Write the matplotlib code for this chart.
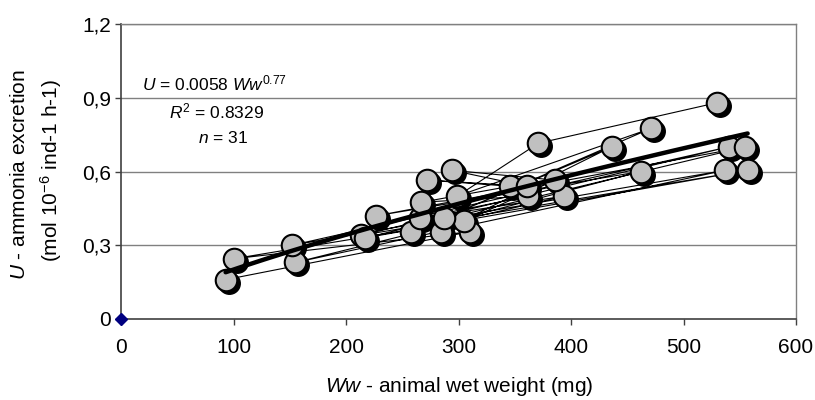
import matplotlib
matplotlib.use("Agg")
import matplotlib.pyplot as plt
import matplotlib.transforms as mtransforms
import numpy as np

plt.rcParams['font.family'] = ['Liberation Sans', 'DejaVu Sans']
plt.rcParams['mathtext.fontset'] = 'custom'
plt.rcParams['mathtext.rm'] = 'Liberation Sans'
plt.rcParams['mathtext.it'] = 'Liberation Sans:italic'

# Data (in series order; points are joined by thin lines in this order)
weight = [93, 310, 100, 305, 155, 537, 152, 540, 213, 557, 217, 555, 227, 462,
          258, 394, 266, 362, 267, 346, 272, 361, 294, 386, 284, 436, 287, 471,
          299, 371, 530]
excretion = [0.16, 0.355, 0.245, 0.40, 0.23, 0.605, 0.30, 0.70, 0.34, 0.605,
             0.33, 0.70, 0.42, 0.60, 0.355, 0.50, 0.41, 0.50, 0.475, 0.54,
             0.565, 0.54, 0.605, 0.565, 0.355, 0.70, 0.41, 0.775, 0.50, 0.715, 0.88]

fit_a = 0.0058
fit_b = 0.77
fit_range = [93, 557]
origin_point = [0, 0]

xticks = [0, 100, 200, 300, 400, 500, 600]
yticks = [0, 0.3, 0.6, 0.9, 1.2]
ytick_labels = ['0', '0,3', '0,6', '0,9', '1,2']

fig = plt.figure(figsize=(8.15, 4.0), dpi=100)
ax = fig.add_axes([121/815, 1-319/400, (796-121)/815, (319-24)/400])
ax.set_xlim(0, 600)
ax.set_ylim(0, 1.2)

for yv in yticks[1:]:
    ax.axhline(yv, color='#808080', lw=1.0, zorder=0)

# thin connecting lines
ax.plot(weight, excretion, color='black', lw=0.8, zorder=2)

# shadow of markers
shadow = ax.transData + mtransforms.ScaledTranslation(3/100, -3/100, fig.dpi_scale_trans)
ax.plot(weight, excretion, ls='none', marker='o', ms=15.5, mfc='black', mec='black',
        transform=shadow, zorder=3)
ax.plot(weight, excretion, ls='none', marker='o', ms=15.5, mfc='#C0C0C0', mec='black',
        mew=1.5, zorder=4)

# fitted power curve
xf = np.linspace(fit_range[0], fit_range[1], 200)
ax.plot(xf, fit_a * xf ** fit_b, color='black', lw=3.2, zorder=5, solid_capstyle='round')

# origin point
ax.plot([origin_point[0]], [origin_point[1]], marker='D', ms=6.5, color='#000080',
        clip_on=False, zorder=6)

ax.set_xticks(xticks)
ax.set_yticks(yticks)
ax.set_yticklabels(ytick_labels)
ax.tick_params(axis='both', labelsize=15, length=4.5, width=1, color='#404040')
ax.tick_params(axis='x', pad=9)
ax.tick_params(axis='y', pad=2.5)

for s in ['left', 'bottom']:
    ax.spines[s].set_color('#404040')
    ax.spines[s].set_linewidth(1.2)
ax.spines['right'].set_color('#808080')
ax.spines['top'].set_color('#808080')
ax.spines['right'].set_linewidth(1.0)
ax.spines['top'].set_linewidth(1.0)

def dpos(px, py):
    return ax.transAxes.inverted().transform(fig.transFigure.transform((px/815, 1-py/400)))

p1 = dpos(215, 83)
p2 = dpos(217, 111)
p3 = dpos(223, 138)
ax.text(p1[0], p1[1], r'$\it{U}$ = 0.0058 $\it{Ww}^{0.77}$', ha='center', va='center',
        fontsize=12.5, transform=ax.transAxes)
ax.text(p2[0], p2[1], r'$\it{R}^{2}$ = 0.8329', ha='center', va='center',
        fontsize=12.5, transform=ax.transAxes)
ax.text(p3[0], p3[1], r'$\it{n}$ = 31', ha='center', va='center',
        fontsize=12.5, transform=ax.transAxes)

fig.text(459/815, 1-386/400, r'$\it{Ww}$ - animal wet weight (mg)', ha='center', va='center', fontsize=15)
fig.text(20/815, 1-175/400, r'$\it{U}$ - ammonia excretion', ha='center', va='center',
         rotation=90, fontsize=15)
fig.text(51/815, 1-171/400, r'(mol 10$^{-6}$ ind-1 h-1)', ha='center', va='center',
         rotation=90, fontsize=15)

fig.savefig('out.png', dpi=100)
